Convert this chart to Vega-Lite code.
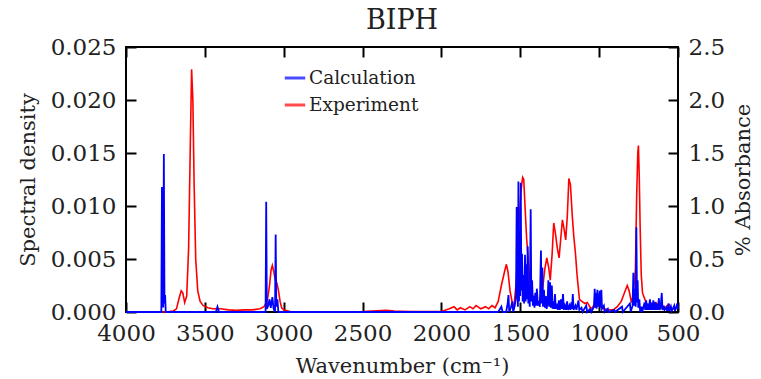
{
  "$schema": "https://vega.github.io/schema/vega-lite/v6.json",
  "width": 552,
  "height": 265,
  "autosize": {"type": "none"},
  "padding": {"left": 126, "top": 47, "right": 83, "bottom": 67},
  "title": {"text": "BIPH", "font": "DejaVu Serif", "fontSize": 27, "fontWeight": "normal", "color": "#222", "offset": 1},
  "config": {
    "font": "DejaVu Serif",
    "view": {"stroke": "#000", "strokeWidth": 2, "fill": null},
    "axis": {
      "labelFont": "DejaVu Serif", "labelFontSize": 23, "labelColor": "#222", "labelFlush": false,
      "titleFont": "DejaVu Serif", "titleFontSize": 21, "titleFontWeight": "normal", "titleColor": "#222",
      "domain": false, "labelPadding": 10, "grid": false
    }
  },
  "datasets": {
    "exp": [
      {"wn": 4000, "y": 0.0}, {"wn": 3750, "y": 0.0}, {"wn": 3700, "y": 0.01}, {"wn": 3680, "y": 0.03},
      {"wn": 3665, "y": 0.12}, {"wn": 3650, "y": 0.2}, {"wn": 3640, "y": 0.18}, {"wn": 3628, "y": 0.09},
      {"wn": 3615, "y": 0.15}, {"wn": 3603, "y": 0.6}, {"wn": 3592, "y": 1.6}, {"wn": 3584, "y": 2.29},
      {"wn": 3576, "y": 2.0}, {"wn": 3568, "y": 1.2}, {"wn": 3558, "y": 0.5}, {"wn": 3545, "y": 0.2},
      {"wn": 3530, "y": 0.1}, {"wn": 3510, "y": 0.06}, {"wn": 3480, "y": 0.04}, {"wn": 3450, "y": 0.03},
      {"wn": 3400, "y": 0.03}, {"wn": 3350, "y": 0.02}, {"wn": 3300, "y": 0.015}, {"wn": 3250, "y": 0.02},
      {"wn": 3200, "y": 0.02}, {"wn": 3150, "y": 0.03}, {"wn": 3125, "y": 0.05}, {"wn": 3105, "y": 0.1},
      {"wn": 3090, "y": 0.25}, {"wn": 3080, "y": 0.4}, {"wn": 3072, "y": 0.44}, {"wn": 3063, "y": 0.38},
      {"wn": 3053, "y": 0.3}, {"wn": 3043, "y": 0.27}, {"wn": 3033, "y": 0.2}, {"wn": 3023, "y": 0.1},
      {"wn": 3013, "y": 0.04}, {"wn": 3000, "y": 0.02}, {"wn": 2950, "y": 0.0}, {"wn": 2500, "y": 0.005},
      {"wn": 2350, "y": 0.015}, {"wn": 2300, "y": 0.01}, {"wn": 2200, "y": 0.005}, {"wn": 2000, "y": 0.005},
      {"wn": 1950, "y": 0.03}, {"wn": 1920, "y": 0.05}, {"wn": 1900, "y": 0.02}, {"wn": 1880, "y": 0.04},
      {"wn": 1850, "y": 0.02}, {"wn": 1820, "y": 0.05}, {"wn": 1800, "y": 0.03}, {"wn": 1780, "y": 0.06},
      {"wn": 1750, "y": 0.03}, {"wn": 1720, "y": 0.05}, {"wn": 1700, "y": 0.03}, {"wn": 1680, "y": 0.06},
      {"wn": 1660, "y": 0.04}, {"wn": 1640, "y": 0.1}, {"wn": 1620, "y": 0.25}, {"wn": 1600, "y": 0.38},
      {"wn": 1588, "y": 0.45}, {"wn": 1578, "y": 0.38}, {"wn": 1565, "y": 0.2}, {"wn": 1550, "y": 0.08},
      {"wn": 1540, "y": 0.05}, {"wn": 1525, "y": 0.3}, {"wn": 1510, "y": 0.8}, {"wn": 1495, "y": 1.15},
      {"wn": 1485, "y": 1.27}, {"wn": 1478, "y": 1.25}, {"wn": 1470, "y": 1.0}, {"wn": 1460, "y": 0.7},
      {"wn": 1450, "y": 0.5}, {"wn": 1440, "y": 0.3}, {"wn": 1425, "y": 0.17}, {"wn": 1410, "y": 0.12},
      {"wn": 1395, "y": 0.08}, {"wn": 1380, "y": 0.1}, {"wn": 1360, "y": 0.2}, {"wn": 1345, "y": 0.4},
      {"wn": 1332, "y": 0.51}, {"wn": 1320, "y": 0.42}, {"wn": 1310, "y": 0.3}, {"wn": 1298, "y": 0.55},
      {"wn": 1288, "y": 0.84}, {"wn": 1278, "y": 0.75}, {"wn": 1265, "y": 0.6}, {"wn": 1254, "y": 0.51},
      {"wn": 1243, "y": 0.7}, {"wn": 1233, "y": 0.87}, {"wn": 1222, "y": 0.78}, {"wn": 1212, "y": 0.68},
      {"wn": 1202, "y": 0.9}, {"wn": 1192, "y": 1.26}, {"wn": 1182, "y": 1.2}, {"wn": 1170, "y": 0.9},
      {"wn": 1160, "y": 0.7}, {"wn": 1150, "y": 0.55}, {"wn": 1140, "y": 0.35}, {"wn": 1125, "y": 0.12},
      {"wn": 1110, "y": 0.1}, {"wn": 1090, "y": 0.08}, {"wn": 1075, "y": 0.09}, {"wn": 1060, "y": 0.05},
      {"wn": 1045, "y": 0.03}, {"wn": 1030, "y": 0.08}, {"wn": 1015, "y": 0.16}, {"wn": 1000, "y": 0.1},
      {"wn": 985, "y": 0.04}, {"wn": 970, "y": 0.03}, {"wn": 940, "y": 0.02}, {"wn": 910, "y": 0.02},
      {"wn": 885, "y": 0.05}, {"wn": 860, "y": 0.1}, {"wn": 840, "y": 0.18}, {"wn": 822, "y": 0.25},
      {"wn": 810, "y": 0.2}, {"wn": 795, "y": 0.09}, {"wn": 785, "y": 0.15}, {"wn": 770, "y": 0.4},
      {"wn": 762, "y": 1.1}, {"wn": 755, "y": 1.5}, {"wn": 751, "y": 1.57}, {"wn": 746, "y": 1.3},
      {"wn": 740, "y": 0.8}, {"wn": 733, "y": 0.35}, {"wn": 725, "y": 0.18}, {"wn": 715, "y": 0.14},
      {"wn": 705, "y": 0.1}, {"wn": 690, "y": 0.05}, {"wn": 675, "y": 0.06}, {"wn": 660, "y": 0.08},
      {"wn": 640, "y": 0.09}, {"wn": 625, "y": 0.05}, {"wn": 600, "y": 0.03}, {"wn": 585, "y": 0.03},
      {"wn": 570, "y": 0.06}, {"wn": 555, "y": 0.07}, {"wn": 540, "y": 0.03}, {"wn": 520, "y": 0.03},
      {"wn": 505, "y": 0.05}, {"wn": 500, "y": 0.04}
    ],
    "calc": [
      {"wn": 4000, "y": 0}, {"wn": 3790, "y": 0}, {"wn": 3776, "y": 0}, {"wn": 3772, "y": 0.0118},
      {"wn": 3768, "y": 0.0005}, {"wn": 3764, "y": 0.0005}, {"wn": 3760, "y": 0.0149}, {"wn": 3756, "y": 0.0008},
      {"wn": 3752, "y": 0.0016}, {"wn": 3748, "y": 0}, {"wn": 3430, "y": 0}, {"wn": 3420, "y": 0.0005},
      {"wn": 3410, "y": 0}, {"wn": 3125, "y": 0}, {"wn": 3115, "y": 0}, {"wn": 3111, "y": 0.0104},
      {"wn": 3107, "y": 0.0003}, {"wn": 3098, "y": 0.0006}, {"wn": 3090, "y": 0.0012}, {"wn": 3082, "y": 0.0004},
      {"wn": 3072, "y": 0.0014}, {"wn": 3064, "y": 0.0003}, {"wn": 3055, "y": 0}, {"wn": 3051, "y": 0.0073},
      {"wn": 3047, "y": 0.0005}, {"wn": 3040, "y": 0.0012}, {"wn": 3034, "y": 0}, {"wn": 2000, "y": 0},
      {"wn": 1640, "y": 0}, {"wn": 1620, "y": 0.0005}, {"wn": 1612, "y": 0}, {"wn": 1590, "y": 0},
      {"wn": 1580, "y": 0.0008}, {"wn": 1575, "y": 0.0016}, {"wn": 1570, "y": 0}, {"wn": 1560, "y": 0.0004},
      {"wn": 1550, "y": 0.001}, {"wn": 1545, "y": 0}, {"wn": 1535, "y": 0.0006}, {"wn": 1527, "y": 0.0015},
      {"wn": 1523, "y": 0.0099}, {"wn": 1519, "y": 0.002}, {"wn": 1515, "y": 0.0005}, {"wn": 1512, "y": 0.0123},
      {"wn": 1508, "y": 0.001}, {"wn": 1505, "y": 0.007}, {"wn": 1501, "y": 0.0015}, {"wn": 1497, "y": 0.0122},
      {"wn": 1493, "y": 0.002}, {"wn": 1489, "y": 0.0055}, {"wn": 1485, "y": 0.001}, {"wn": 1480, "y": 0.0035},
      {"wn": 1476, "y": 0.0008}, {"wn": 1470, "y": 0.0054}, {"wn": 1466, "y": 0.001}, {"wn": 1462, "y": 0.0045},
      {"wn": 1458, "y": 0.0012}, {"wn": 1453, "y": 0.0062}, {"wn": 1449, "y": 0.0008}, {"wn": 1445, "y": 0.0018},
      {"wn": 1440, "y": 0.0005}, {"wn": 1434, "y": 0.0097}, {"wn": 1430, "y": 0.001}, {"wn": 1425, "y": 0.003},
      {"wn": 1420, "y": 0.0006}, {"wn": 1415, "y": 0.0015}, {"wn": 1410, "y": 0.0004}, {"wn": 1405, "y": 0.0018},
      {"wn": 1400, "y": 0.0006}, {"wn": 1395, "y": 0.0022}, {"wn": 1388, "y": 0.0006}, {"wn": 1383, "y": 0.001},
      {"wn": 1376, "y": 0.0005}, {"wn": 1369, "y": 0.0058}, {"wn": 1365, "y": 0.0008}, {"wn": 1360, "y": 0.0042},
      {"wn": 1356, "y": 0.0005}, {"wn": 1350, "y": 0.0021}, {"wn": 1344, "y": 0.0004}, {"wn": 1338, "y": 0.0015},
      {"wn": 1333, "y": 0.0003}, {"wn": 1327, "y": 0.0009}, {"wn": 1322, "y": 0.003}, {"wn": 1317, "y": 0.0005},
      {"wn": 1311, "y": 0.0028}, {"wn": 1306, "y": 0.0004}, {"wn": 1300, "y": 0.0025}, {"wn": 1295, "y": 0.0003},
      {"wn": 1290, "y": 0.001}, {"wn": 1285, "y": 0.0003}, {"wn": 1280, "y": 0.0017}, {"wn": 1275, "y": 0.0003},
      {"wn": 1268, "y": 0.0008}, {"wn": 1262, "y": 0.0002}, {"wn": 1255, "y": 0.0011}, {"wn": 1249, "y": 0.0002},
      {"wn": 1242, "y": 0.0012}, {"wn": 1236, "y": 0.0003}, {"wn": 1229, "y": 0.0017}, {"wn": 1224, "y": 0.0002},
      {"wn": 1217, "y": 0.0006}, {"wn": 1210, "y": 0.0002}, {"wn": 1203, "y": 0.001}, {"wn": 1197, "y": 0.0002},
      {"wn": 1188, "y": 0.0006}, {"wn": 1182, "y": 0.0002}, {"wn": 1176, "y": 0.0009}, {"wn": 1172, "y": 0.0003},
      {"wn": 1167, "y": 0.0017}, {"wn": 1162, "y": 0.0002}, {"wn": 1150, "y": 0.0006}, {"wn": 1144, "y": 0.0002},
      {"wn": 1131, "y": 0.0011}, {"wn": 1126, "y": 0.0002}, {"wn": 1112, "y": 0.0004}, {"wn": 1105, "y": 0},
      {"wn": 1082, "y": 0.0006}, {"wn": 1076, "y": 0}, {"wn": 1058, "y": 0.0003}, {"wn": 1050, "y": 0},
      {"wn": 1033, "y": 0.0005}, {"wn": 1028, "y": 0.0022}, {"wn": 1024, "y": 0.0004}, {"wn": 1020, "y": 0.0018},
      {"wn": 1016, "y": 0.0003}, {"wn": 1011, "y": 0.0021}, {"wn": 1006, "y": 0.0005}, {"wn": 1000, "y": 0.0012},
      {"wn": 996, "y": 0.002}, {"wn": 992, "y": 0.0004}, {"wn": 986, "y": 0.0021}, {"wn": 982, "y": 0.0003},
      {"wn": 970, "y": 0.0006}, {"wn": 965, "y": 0}, {"wn": 945, "y": 0.0003}, {"wn": 940, "y": 0},
      {"wn": 905, "y": 0.0002}, {"wn": 900, "y": 0}, {"wn": 855, "y": 0.0005}, {"wn": 850, "y": 0},
      {"wn": 805, "y": 0.0008}, {"wn": 800, "y": 0}, {"wn": 788, "y": 0.0006}, {"wn": 783, "y": 0.0037},
      {"wn": 779, "y": 0.0006}, {"wn": 773, "y": 0.0022}, {"wn": 768, "y": 0.0005}, {"wn": 764, "y": 0.008},
      {"wn": 760, "y": 0.0009}, {"wn": 756, "y": 0.003}, {"wn": 752, "y": 0.0004}, {"wn": 745, "y": 0.0012},
      {"wn": 740, "y": 0}, {"wn": 732, "y": 0.0005}, {"wn": 727, "y": 0}, {"wn": 712, "y": 0.0009},
      {"wn": 708, "y": 0.0002}, {"wn": 702, "y": 0.0011}, {"wn": 697, "y": 0.0002}, {"wn": 690, "y": 0.0008},
      {"wn": 685, "y": 0.0002}, {"wn": 678, "y": 0.0012}, {"wn": 673, "y": 0.0002}, {"wn": 668, "y": 0.0009},
      {"wn": 664, "y": 0.0002}, {"wn": 656, "y": 0.0011}, {"wn": 652, "y": 0.0002}, {"wn": 645, "y": 0.0009},
      {"wn": 640, "y": 0.0002}, {"wn": 634, "y": 0.0008}, {"wn": 629, "y": 0.0002}, {"wn": 621, "y": 0.0013},
      {"wn": 617, "y": 0.0002}, {"wn": 610, "y": 0.0005}, {"wn": 603, "y": 0.0018}, {"wn": 598, "y": 0.0002},
      {"wn": 590, "y": 0.0006}, {"wn": 585, "y": 0.0002}, {"wn": 575, "y": 0.0004}, {"wn": 568, "y": 0.0001},
      {"wn": 560, "y": 0.0008}, {"wn": 555, "y": 0.0001}, {"wn": 545, "y": 0.0005}, {"wn": 540, "y": 0.0001},
      {"wn": 530, "y": 0.0004}, {"wn": 524, "y": 0.0006}, {"wn": 519, "y": 0.0001}, {"wn": 510, "y": 0.0005},
      {"wn": 505, "y": 0.0008}, {"wn": 500, "y": 0.0003}
    ]
  },
  "layer": [
    {
      "data": {"name": "exp"},
      "mark": {"type": "line", "strokeWidth": 1.6},
      "encoding": {
        "x": {"field": "wn", "type": "quantitative",
              "scale": {"domain": [500, 4000], "reverse": true, "nice": false},
              "axis": {"orient": "top", "labels": false, "title": null, "offset": -10,
                       "ticks": true, "tickColor": "black", "tickSize": 10, "tickWidth": 2, "tickOpacity": 1,
                       "tickCount": 8}},
        "y": {"field": "y", "type": "quantitative",
              "scale": {"domain": [0, 2.5], "nice": false},
              "axis": {"orient": "right", "title": "% Absorbance", "titleAngle": 270, "titleBaseline": "top",
                       "titlePadding": 8, "offset": -10,
                       "ticks": true, "tickColor": "black", "tickSize": 10, "tickWidth": 2, "tickOpacity": 1,
                       "tickCount": 5, "format": ".1f"}},
        "color": {"datum": "Experiment", "type": "nominal",
                  "scale": {"domain": ["Calculation", "Experiment"], "range": ["#0000ff", "#ff0000"]},
                  "legend": {"orient": "none", "legendX": 157, "legendY": 19, "title": null,
                             "symbolType": "stroke", "symbolStrokeWidth": 3, "symbolSize": 420,
                             "symbolOpacity": 0.7, "labelFont": "DejaVu Serif", "labelFontSize": 18.5,
                             "labelColor": "#222", "rowPadding": 5, "labelOffset": 2}}
      }
    },
    {
      "data": {"name": "calc"},
      "mark": {"type": "line", "strokeWidth": 1.8},
      "encoding": {
        "x": {"field": "wn", "type": "quantitative",
              "scale": {"domain": [500, 4000], "reverse": true, "nice": false},
              "axis": {"orient": "bottom", "title": "Wavenumber (cm⁻¹)", "titlePadding": 10, "offset": -10,
                       "ticks": true, "tickColor": "black", "tickSize": 10, "tickWidth": 2, "tickOpacity": 1,
                       "tickCount": 8, "format": "d"}},
        "y": {"field": "y", "type": "quantitative",
              "scale": {"domain": [0, 0.025], "nice": false},
              "axis": {"orient": "left", "title": "Spectral density", "titlePadding": 12, "offset": -10,
                       "ticks": true, "tickColor": "black", "tickSize": 10, "tickWidth": 2, "tickOpacity": 1,
                       "tickCount": 5, "format": ".3f"}},
        "color": {"datum": "Calculation", "type": "nominal"}
      }
    }
  ],
  "resolve": {"scale": {"y": "independent"}, "axis": {"x": "independent", "y": "independent"}}
}
